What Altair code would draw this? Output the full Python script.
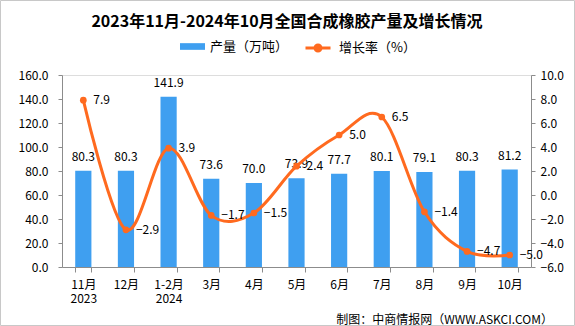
import altair as alt
import pandas as pd

months = ["11月|2023", "12月", "1-2月|2024", "3月", "4月", "5月", "6月", "7月", "8月", "9月", "10月"]
output = [80.3, 80.3, 141.9, 73.6, 70.0, 73.9, 77.7, 80.1, 79.1, 80.3, 81.2]
growth = [7.9, -2.9, 3.9, -1.7, -1.5, 2.4, 5.0, 6.5, -1.4, -4.7, -5.0]
left_ticks = [0, 20, 40, 60, 80, 100, 120, 140, 160]
right_ticks = [-6, -4, -2, 0, 2, 4, 6, 8, 10]
series_bar = "产量（万吨）"
series_line = "增长率（%）"
title_text = "2023年11月-2024年10月全国合成橡胶产量及增长情况"
source_text = "制图：中商情报网（WWW.ASKCI.COM）"

df = pd.DataFrame({"month": months, "output": output, "growth": growth,
                   "s1": series_bar, "s2": series_line})

FONT = "Noto Sans CJK SC"
BLUE = "#3f9ff0"
ORANGE = "#ff6a1f"
AX = "#8c8c8c"

xenc = alt.X("month:N", sort=months,
             scale=alt.Scale(paddingInner=0.62, paddingOuter=0.31),
             axis=alt.Axis(title=None, labelExpr="split(datum.label, '|')", labelAngle=0,
                           tickBand="extent", tickSize=5, labelPadding=7,
                           domainColor=AX, tickColor=AX, labelColor="#000",
                           labelFontSize=12, labelLineHeight=14, labelFont=FONT,
                           labelOverlap=False))

left_axis = alt.Axis(title=None, values=left_ticks, tickCount=9, format=".1f",
                     grid=False, tickSize=4, labelPadding=10, domainColor=AX,
                     tickColor=AX, labelColor="#000", labelFontSize=12, labelFont=FONT,
                     labelOverlap=False, labelFlush=False)
right_axis = alt.Axis(title=None, orient="right", values=right_ticks, tickCount=9, format=".1f",
                      grid=False, tickSize=4, labelPadding=5, domainColor=AX,
                      tickColor=AX, labelColor="#000", labelFontSize=12, labelFont=FONT,
                      labelOverlap=False, labelFlush=False)

def yleft():
    return alt.Y("output:Q", scale=alt.Scale(domain=[0, 160], nice=False), axis=left_axis)

def yright():
    return alt.Y("growth:Q", scale=alt.Scale(domain=[-6, 10], nice=False), axis=right_axis)

base = alt.Chart(df)

bars = base.mark_bar(color=BLUE).encode(
    x=xenc, y=yleft(),
    color=alt.Color("s1:N", scale=alt.Scale(domain=[series_bar], range=[BLUE]),
                    legend=alt.Legend(title=None, orient="none", legendX=122, legendY=-37,
                                      symbolType="M-1.5,-0.4H1.5V0.4H-1.5Z", symbolSize=278,
                                      symbolStrokeWidth=0, labelOffset=9, labelFontSize=13,
                                      labelFont=FONT, labelColor="#000")))
bar_text = base.mark_text(baseline="bottom", dy=-7, fontSize=12, font=FONT, color="#000").encode(
    x=xenc, y=yleft(), text=alt.Text("output:Q", format=".1f"))

src = alt.Chart(pd.DataFrame({"t": [source_text]})).mark_text(
    align="right", baseline="middle", fontSize=12, font=FONT, color="#000").encode(
    x=alt.value(491), y=alt.value(245), text="t:N")

title = alt.Chart(pd.DataFrame({"t": [title_text]})).mark_text(
    align="center", baseline="middle", fontSize=16, font=FONT, fontWeight="bold",
    color="#000").encode(x=alt.value(225), y=alt.value(-53), text="t:N")

border = alt.Chart(pd.DataFrame({"t": [1]})).mark_rect(
    fill=None, stroke="#c8c8c8", strokeWidth=1).encode(
    x=alt.value(-61.5), x2=alt.value(512.5), y=alt.value(-74.5), y2=alt.value(250.5))

line = base.mark_line(interpolate="cardinal", strokeWidth=3).encode(
    x=xenc, y=yright(),
    stroke=alt.Stroke("s2:N", scale=alt.Scale(domain=[series_line], range=[ORANGE]),
                      legend=alt.Legend(title=None, orient="none", legendX=246, legendY=-37,
                                        symbolType="M-1.5,0H1.5M0.36,0A0.36,0.36,0,1,1,-0.36,0A0.36,0.36,0,1,1,0.36,0",
                                        symbolSize=278, symbolStrokeWidth=3, symbolFillColor=ORANGE,
                                        labelOffset=11, labelFontSize=13, labelFont=FONT,
                                        labelColor="#000")))
points = base.mark_circle(size=45, color=ORANGE, opacity=1).encode(
    x=xenc, y=yright())
line_text = base.mark_text(align="left", baseline="middle", dx=10, fontSize=12, font=FONT,
                           color="#000").encode(
    x=xenc, y=yright(), text=alt.Text("growth:Q", format=".1f"))

left = alt.layer(border, bars, bar_text, src, title)
right = alt.layer(line, points, line_text)

chart = alt.layer(left, right).resolve_scale(y="independent").properties(
    width=469, height=192,
    autosize=alt.AutoSizeParams(type="none"),
    padding={"left": 62, "top": 75, "right": 44, "bottom": 59},
).configure_view(stroke=None).configure(background="#ffffff")

chart.save("out.html", embed_options={"renderer": "svg", "actions": False})
